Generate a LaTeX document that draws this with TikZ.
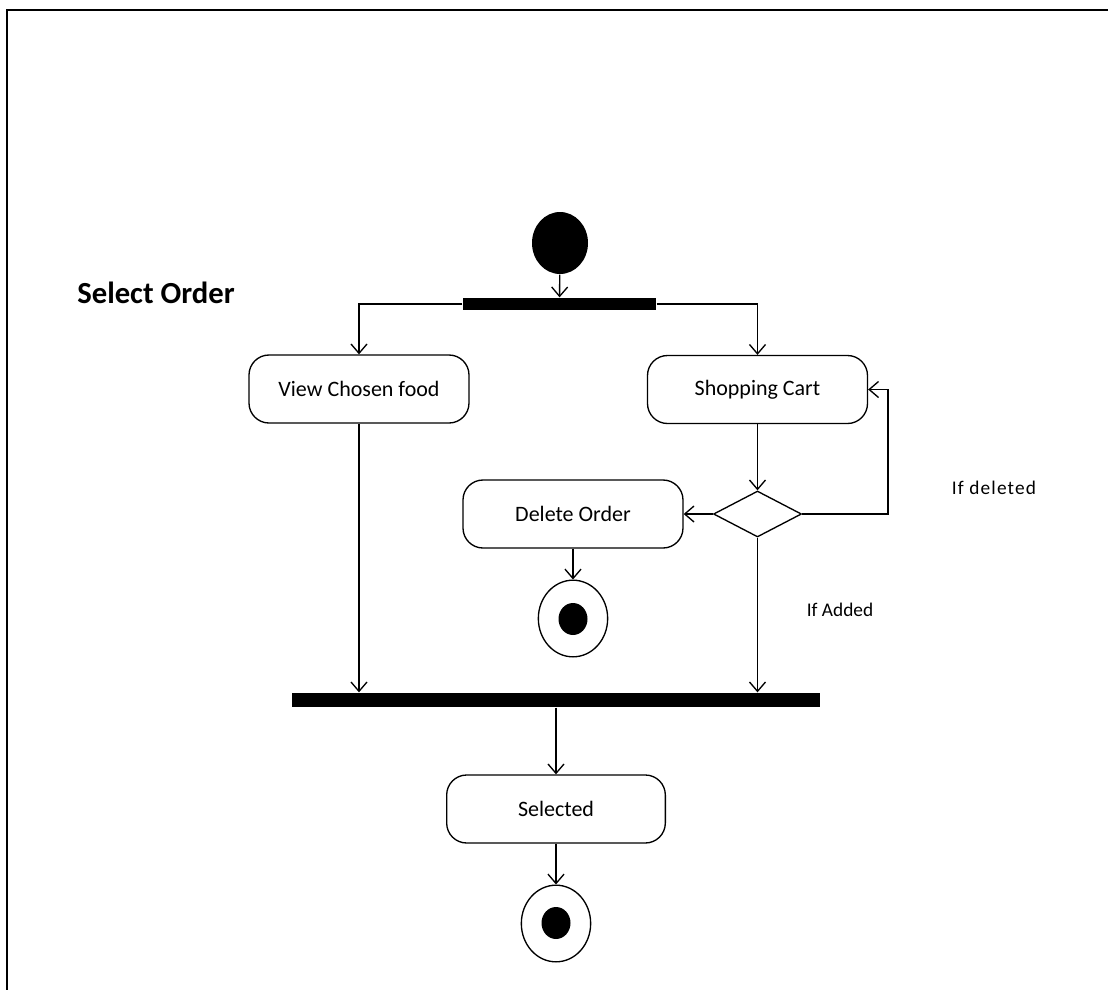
\documentclass[tikz,border=0pt]{standalone}
\usepackage{fontspec}
\setmainfont{Carlito}
\newfontfamily\widefont[LetterSpace=6]{Carlito}
\usetikzlibrary{arrows.meta,shapes.geometric}
\begin{document}
\begin{tikzpicture}[x=0.75pt,y=-0.75pt,
  line width=1pt,
  arr/.style={-{Straight Barb[length=7pt,width=12pt]}},
  action/.style={draw,rounded corners=15pt,minimum width=165pt,minimum height=51pt,
    inner sep=0pt,font=\fontsize{16.5}{19}\selectfont},
  bar/.style={fill=black,draw=none,inner sep=0pt},
  startnode/.style={ellipse,fill=black,draw=none,minimum width=42pt,minimum height=46.5pt,inner sep=0pt},
  endring/.style={ellipse,draw,fill=white,minimum width=52pt,minimum height=57.5pt,inner sep=0pt},
  enddot/.style={ellipse,fill=black,draw=none,minimum width=21.75pt,minimum height=24pt,inner sep=0pt},
  guard/.style={font=\fontsize{14.5}{17}\selectfont,inner sep=0pt}]
\useasboundingbox (0,0) rectangle (1108,990);
% frame
\draw[line width=1.3pt] (7,995) -- (7,10) -- (1115,10);
% title
\node[font=\fontsize{23}{27}\bfseries\selectfont,inner sep=0pt] (title) at (156,293) {Select Order};
% nodes
\node[startnode] (start) at (560,243) {};
\node[bar,minimum width=144.75pt,minimum height=9pt] (fork) at (559.5,304) {};
\node[action] (view) at (359,389) {View Chosen food};
\node[action] (cart) at (757.5,389.5) {Shopping Cart};
\node[diamond,draw,minimum width=66pt,minimum height=34.5pt,inner sep=0pt] (dec) at (757.5,514) {};
\node[action] (del) at (573,514) {Delete Order};
\node[endring] (end1) at (573,618.5) {};
\node[enddot] (end1dot) at (573,619) {};
\node[bar,minimum width=396pt,minimum height=10.5pt] (join) at (556,700) {};
\node[action,minimum width=164pt] (sel) at (556,809) {Selected};
\node[endring] (end2) at (556,923.5) {};
\node[enddot] (end2dot) at (556,923) {};
\coordinate (loop) at (888,514);
% guard labels
\node[guard,font=\fontsize{14.5}{17}\widefont] (ifdel) at (994,488) {If deleted};
\node[guard] (ifadd) at (840,610) {If Added};
% connectors
\draw[arr] (start) -- (fork);
\draw[arr] (fork.west) -| (view);
\draw[arr] (fork.east) -| (cart);
\draw[arr] (view) -- (view |- join.north);
\draw[arr] (cart) -- (dec);
\draw[arr] (dec.east) -- (loop) |- (cart.east);
\draw[arr] (dec) -- (del);
\draw[arr] (del) -- (end1);
\draw[arr] (dec) -- (dec |- join.north);
\draw[arr] (join) -- (sel);
\draw[arr] (sel) -- (end2);
\end{tikzpicture}
\end{document}
